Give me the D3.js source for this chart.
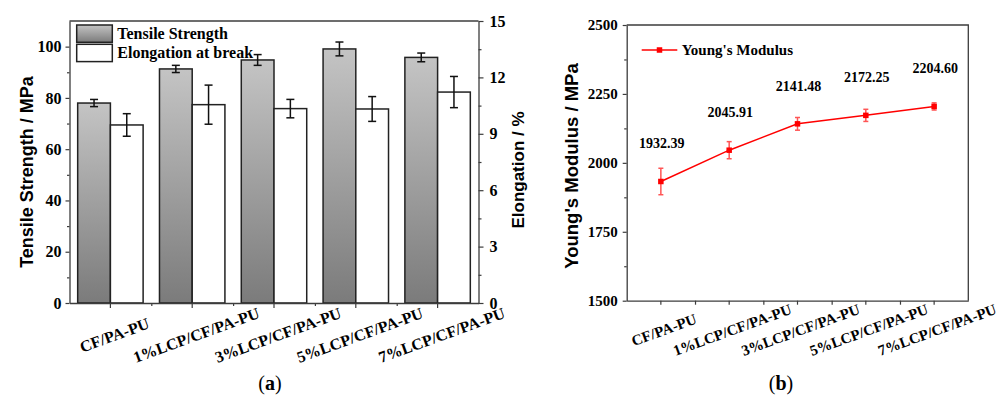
<!DOCTYPE html>
<html>
<head>
<meta charset="utf-8">
<script src="https://cdnjs.cloudflare.com/ajax/libs/d3/7.8.5/d3.min.js"></script>
<style>
  body { margin: 0; background: #fff; }
</style>
</head>
<body>
<div id="chart"></div>
<script>
// data
const categories = ["CF/PA-PU", "1%LCP/CF/PA-PU", "3%LCP/CF/PA-PU", "5%LCP/CF/PA-PU", "7%LCP/CF/PA-PU"];
const tensile = [78.0, 91.3, 94.8, 99.1, 95.8];
const tensileErr = [1.4, 1.4, 2.1, 2.7, 1.7];
const elongation = [9.47, 10.55, 10.34, 10.32, 11.22];
const elongationErr = [0.6, 1.04, 0.49, 0.66, 0.83];
const modulus = [1932.39, 2045.91, 2141.48, 2172.25, 2204.60];
const modulusErr = [48, 31, 23, 22, 13];

const tensileTicks = [0, 20, 40, 60, 80, 100];
const tensileMinor = [10, 30, 50, 70, 90];
const elongTicks = [0, 3, 6, 9, 12, 15];
const elongMinor = [1.5, 4.5, 7.5, 10.5, 13.5];
const modulusTicks = [1500, 1750, 2000, 2250, 2500];
const modulusMinor = [1625, 1875, 2125, 2375];

const serif = '"Times New Roman", "Liberation Serif", serif';
const sans = 'Arial, "Liberation Sans", sans-serif';
const axisColor = "#3c3c3c";

const svg = d3.select("#chart").append("svg")
    .attr("width", 1004)
    .attr("height", 396)
    .style("background", "#fff");

const defs = svg.append("defs");
const grad = defs.append("linearGradient")
    .attr("id", "barGrad")
    .attr("x1", 0).attr("y1", 0).attr("x2", 0).attr("y2", 1);
grad.append("stop").attr("offset", "0%").attr("stop-color", "#c4c4c4");
grad.append("stop").attr("offset", "100%").attr("stop-color", "#7b7b7b");

function styleAxis(g, size) {
    g.attr("font-family", serif).attr("font-size", size).attr("font-weight", "bold");
    g.selectAll(".tick line").attr("stroke", axisColor).attr("stroke-width", 1.2);
    g.select(".domain").attr("stroke", axisColor).attr("stroke-width", 1.3);
    g.selectAll(".tick text")
        .attr("fill", "#000")
        .style("font-family", serif)
        .style("font-weight", "bold")
        .style("font-size", size + "px");
}

// ---------- (a) tensile strength / elongation bars ----------
const a = { left: 69.5, right: 478.5, top: 21, bottom: 303 };
const xA = d3.scaleBand().domain(categories).range([a.left, a.right]);
const yTS = d3.scaleLinear().domain([0, 110]).range([a.bottom, a.top]);
const yEl = d3.scaleLinear().domain([0, 15]).range([a.bottom, a.top]);
const idxA = d3.scaleLinear().domain([0, categories.length]).range([a.left, a.right]);
const bw = xA.bandwidth() * 0.4;

const gA = svg.append("g");

gA.selectAll("rect.ts")
    .data(categories)
    .enter().append("rect")
    .attr("class", "ts")
    .attr("x", d => xA(d) + xA.bandwidth() * 0.1)
    .attr("y", (d, i) => yTS(tensile[i]))
    .attr("width", bw)
    .attr("height", (d, i) => yTS(0) - yTS(tensile[i]))
    .attr("fill", "url(#barGrad)")
    .attr("stroke", "#222")
    .attr("stroke-width", 1.5);

gA.selectAll("rect.el")
    .data(categories)
    .enter().append("rect")
    .attr("class", "el")
    .attr("x", d => xA(d) + xA.bandwidth() * 0.5)
    .attr("y", (d, i) => yEl(elongation[i]))
    .attr("width", bw)
    .attr("height", (d, i) => yEl(0) - yEl(elongation[i]))
    .attr("fill", "#fff")
    .attr("stroke", "#222")
    .attr("stroke-width", 1.5);

function errorBars(g, xs, vals, errs, scale, cap, color) {
    vals.forEach((v, i) => {
        const x = xs[i];
        const y1 = scale(v - errs[i]), y2 = scale(v + errs[i]);
        g.append("line").attr("x1", x).attr("x2", x).attr("y1", y1).attr("y2", y2)
            .attr("stroke", color).attr("stroke-width", 1.5);
        [y1, y2].forEach(y => {
            g.append("line").attr("x1", x - cap / 2).attr("x2", x + cap / 2)
                .attr("y1", y).attr("y2", y)
                .attr("stroke", color).attr("stroke-width", 1.5);
        });
    });
}

errorBars(gA, categories.map(c => xA(c) + xA.bandwidth() * 0.3), tensile, tensileErr, yTS, 8, "#111");
errorBars(gA, categories.map(c => xA(c) + xA.bandwidth() * 0.7), elongation, elongationErr, yEl, 8, "#111");

// frame top
gA.append("line").attr("x1", a.left).attr("x2", a.right).attr("y1", a.top).attr("y2", a.top)
    .attr("stroke", axisColor).attr("stroke-width", 1.3);

gA.append("g").attr("transform", `translate(${a.left},0)`)
    .call(d3.axisLeft(yTS).tickValues(tensileTicks).tickSize(4).tickPadding(4).tickSizeOuter(0))
    .call(g => styleAxis(g, 16));
gA.append("g").attr("transform", `translate(${a.left},0)`)
    .call(d3.axisLeft(yTS).tickValues(tensileMinor).tickSize(2.5).tickFormat(""))
    .call(g => { styleAxis(g, 16); g.select(".domain").remove(); });

gA.append("g").attr("transform", `translate(${a.right},0)`)
    .call(d3.axisRight(yEl).tickValues(elongTicks).tickSize(5).tickPadding(6).tickSizeOuter(0))
    .call(g => styleAxis(g, 16));
gA.append("g").attr("transform", `translate(${a.right},0)`)
    .call(d3.axisRight(yEl).tickValues(elongMinor).tickSize(3).tickFormat(""))
    .call(g => { styleAxis(g, 16); g.select(".domain").remove(); });

gA.append("g").attr("transform", `translate(0,${a.bottom})`)
    .call(d3.axisBottom(idxA).tickValues(d3.range(1, categories.length)).tickSize(3).tickFormat(""))
    .call(g => { styleAxis(g, 16); g.select(".domain").remove(); });
gA.append("g").attr("transform", `translate(0,${a.bottom})`)
    .call(d3.axisBottom(xA).tickSize(5).tickSizeOuter(0))
    .call(g => styleAxis(g, 16))
    .call(g => g.selectAll(".tick text")
        .attr("y", 0).attr("dy", "0.35em")
        .attr("text-anchor", "middle")
        .attr("transform", "translate(4,32) rotate(-20)"));

gA.append("text")
    .attr("transform", "translate(33,172) rotate(-90)")
    .attr("text-anchor", "middle")
    .attr("font-family", sans).attr("font-weight", "bold").attr("font-size", 18)
    .text("Tensile Strength / MPa");
gA.append("text")
    .attr("transform", "translate(524,170) rotate(-90)")
    .attr("text-anchor", "middle")
    .attr("font-family", sans).attr("font-weight", "bold").attr("font-size", 17)
    .text("Elongation / %");

// legend (a)
const legA = [
    { label: "Tensile Strength", fill: "url(#barGrad)", y: 25 },
    { label: "Elongation at break", fill: "#fff", y: 44.3 }
];
legA.forEach(d => {
    gA.append("rect").attr("x", 76.7).attr("y", d.y).attr("width", 35.6).attr("height", 17.3)
        .attr("fill", d.fill).attr("stroke", "#222").attr("stroke-width", 1.5);
    gA.append("text").attr("x", 117.3).attr("y", d.y + 14)
        .attr("font-family", serif).attr("font-weight", "bold").attr("font-size", 16)
        .text(d.label);
});

gA.append("text").attr("x", 270).attr("y", 390).attr("text-anchor", "middle")
    .attr("font-family", serif).attr("font-size", 20)
    .call(t => {
        t.append("tspan").text("(");
        t.append("tspan").attr("font-weight", "bold").text("a");
        t.append("tspan").text(")");
    });

// ---------- (b) Young's modulus ----------
const b = { left: 626.7, right: 968.3, top: 25, bottom: 300.7 };
const xB = d3.scaleBand().domain(categories).range([b.left, b.right]);
const yM = d3.scaleLinear().domain([1500, 2500]).range([b.bottom, b.top]);
const idxB = d3.scaleLinear().domain([0, categories.length]).range([b.left, b.right]);
const cx = c => xB(c) + xB.bandwidth() / 2;

const gB = svg.append("g");

gB.append("path")
    .attr("d", `M${b.left},${b.top}H${b.right}V${b.bottom}`)
    .attr("fill", "none").attr("stroke", axisColor).attr("stroke-width", 1.3);

gB.append("g").attr("transform", `translate(${b.left},0)`)
    .call(d3.axisLeft(yM).tickValues(modulusTicks).tickFormat(d3.format("d"))
        .tickSize(4).tickPadding(5).tickSizeOuter(0))
    .call(g => styleAxis(g, 15));
gB.append("g").attr("transform", `translate(${b.left},0)`)
    .call(d3.axisLeft(yM).tickValues(modulusMinor).tickSize(2.5).tickFormat(""))
    .call(g => { styleAxis(g, 15); g.select(".domain").remove(); });

gB.append("g").attr("transform", `translate(0,${b.bottom})`)
    .call(d3.axisBottom(idxB).tickValues(d3.range(1, categories.length)).tickSize(4).tickFormat(""))
    .call(g => { styleAxis(g, 15); g.select(".domain").remove(); });
gB.append("g").attr("transform", `translate(0,${b.bottom})`)
    .call(d3.axisBottom(xB).tickSize(4).tickSizeOuter(0))
    .call(g => styleAxis(g, 15))
    .call(g => g.selectAll(".tick text")
        .attr("y", 0).attr("dy", "0.35em")
        .attr("text-anchor", "middle")
        .attr("transform", "translate(3,29) rotate(-20)"));

const line = d3.line()
    .x((d, i) => cx(categories[i]))
    .y(d => yM(d));

errorBars(gB, categories.map(cx), modulus, modulusErr, yM, 5, "#ff5555");

gB.append("path")
    .datum(modulus)
    .attr("d", line)
    .attr("fill", "none")
    .attr("stroke", "#ff0000")
    .attr("stroke-width", 1.5);

gB.selectAll("rect.pt")
    .data(modulus)
    .enter().append("rect")
    .attr("class", "pt")
    .attr("x", (d, i) => cx(categories[i]) - 2.75)
    .attr("y", d => yM(d) - 2.75)
    .attr("width", 5.5).attr("height", 5.5)
    .attr("fill", "#ff0000");

gB.selectAll("text.val")
    .data(modulus)
    .enter().append("text")
    .attr("class", "val")
    .attr("x", (d, i) => cx(categories[i]) + 1)
    .attr("y", d => yM(d) - 33)
    .attr("text-anchor", "middle")
    .attr("font-family", serif).attr("font-weight", "bold").attr("font-size", 14)
    .text(d => d.toFixed(2));

gB.append("text")
    .attr("transform", "translate(578,166) rotate(-90)")
    .attr("text-anchor", "middle")
    .attr("font-family", sans).attr("font-weight", "bold").attr("font-size", 18.5)
    .text("Young's Modulus / MPa");

// legend (b)
gB.append("line").attr("x1", 641.7).attr("x2", 677.3).attr("y1", 50).attr("y2", 50)
    .attr("stroke", "#ff0000").attr("stroke-width", 1.5);
gB.append("rect").attr("x", 659.5 - 2.75).attr("y", 50 - 2.75).attr("width", 5.5).attr("height", 5.5)
    .attr("fill", "#ff0000");
gB.append("text").attr("x", 681.7).attr("y", 54.8)
    .attr("font-family", serif).attr("font-weight", "bold").attr("font-size", 15)
    .text("Young's Modulus");

gB.append("text").attr("x", 781).attr("y", 390).attr("text-anchor", "middle")
    .attr("font-family", serif).attr("font-size", 20)
    .call(t => {
        t.append("tspan").text("(");
        t.append("tspan").attr("font-weight", "bold").text("b");
        t.append("tspan").text(")");
    });
</script>
</body>
</html>
